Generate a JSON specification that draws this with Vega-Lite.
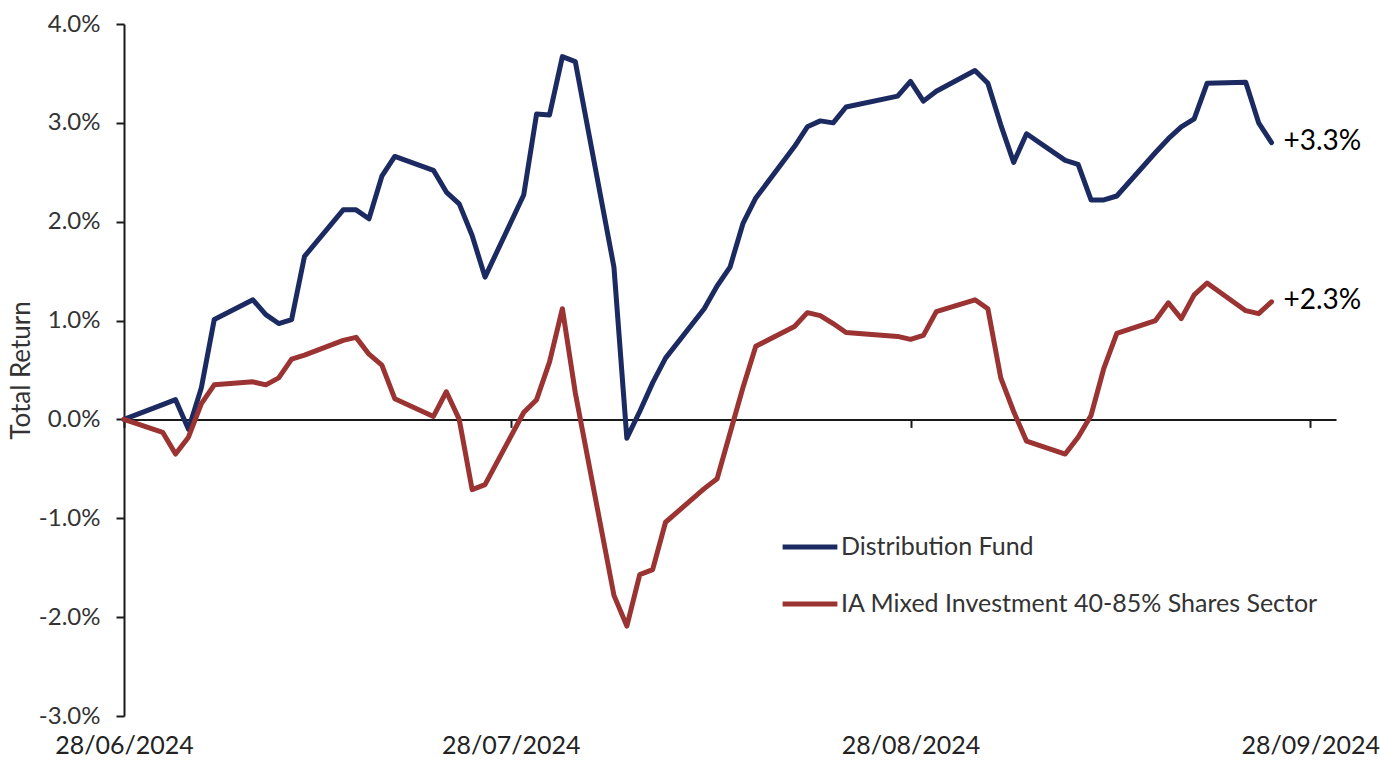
{
  "$schema": "https://vega.github.io/schema/vega-lite/v6.json",
  "width": 1212,
  "height": 692,
  "autosize": {"type": "none"},
  "padding": {"left": 124, "top": 24, "right": 44, "bottom": 44},
  "background": "white",
  "config": {"view": {"stroke": null}},
  "datasets": {
    "series": [
      {"Date": "2024-06-28", "Series": "Distribution Fund", "Return": 0},
      {"Date": "2024-07-01", "Series": "Distribution Fund", "Return": 0.15},
      {"Date": "2024-07-02", "Series": "Distribution Fund", "Return": 0.20},
      {"Date": "2024-07-03", "Series": "Distribution Fund", "Return": -0.10},
      {"Date": "2024-07-04", "Series": "Distribution Fund", "Return": 0.32},
      {"Date": "2024-07-05", "Series": "Distribution Fund", "Return": 1.01},
      {"Date": "2024-07-08", "Series": "Distribution Fund", "Return": 1.21},
      {"Date": "2024-07-09", "Series": "Distribution Fund", "Return": 1.06},
      {"Date": "2024-07-10", "Series": "Distribution Fund", "Return": 0.97},
      {"Date": "2024-07-11", "Series": "Distribution Fund", "Return": 1.01},
      {"Date": "2024-07-12", "Series": "Distribution Fund", "Return": 1.65},
      {"Date": "2024-07-15", "Series": "Distribution Fund", "Return": 2.12},
      {"Date": "2024-07-16", "Series": "Distribution Fund", "Return": 2.12},
      {"Date": "2024-07-17", "Series": "Distribution Fund", "Return": 2.03},
      {"Date": "2024-07-18", "Series": "Distribution Fund", "Return": 2.46},
      {"Date": "2024-07-19", "Series": "Distribution Fund", "Return": 2.66},
      {"Date": "2024-07-22", "Series": "Distribution Fund", "Return": 2.52},
      {"Date": "2024-07-23", "Series": "Distribution Fund", "Return": 2.30},
      {"Date": "2024-07-24", "Series": "Distribution Fund", "Return": 2.18},
      {"Date": "2024-07-25", "Series": "Distribution Fund", "Return": 1.86},
      {"Date": "2024-07-26", "Series": "Distribution Fund", "Return": 1.44},
      {"Date": "2024-07-29", "Series": "Distribution Fund", "Return": 2.27},
      {"Date": "2024-07-30", "Series": "Distribution Fund", "Return": 3.09},
      {"Date": "2024-07-31", "Series": "Distribution Fund", "Return": 3.08},
      {"Date": "2024-08-01", "Series": "Distribution Fund", "Return": 3.67},
      {"Date": "2024-08-02", "Series": "Distribution Fund", "Return": 3.62},
      {"Date": "2024-08-05", "Series": "Distribution Fund", "Return": 1.54},
      {"Date": "2024-08-06", "Series": "Distribution Fund", "Return": -0.19},
      {"Date": "2024-08-07", "Series": "Distribution Fund", "Return": 0.08},
      {"Date": "2024-08-08", "Series": "Distribution Fund", "Return": 0.37},
      {"Date": "2024-08-09", "Series": "Distribution Fund", "Return": 0.62},
      {"Date": "2024-08-12", "Series": "Distribution Fund", "Return": 1.12},
      {"Date": "2024-08-13", "Series": "Distribution Fund", "Return": 1.35},
      {"Date": "2024-08-14", "Series": "Distribution Fund", "Return": 1.54},
      {"Date": "2024-08-15", "Series": "Distribution Fund", "Return": 1.98},
      {"Date": "2024-08-16", "Series": "Distribution Fund", "Return": 2.24},
      {"Date": "2024-08-19", "Series": "Distribution Fund", "Return": 2.76},
      {"Date": "2024-08-20", "Series": "Distribution Fund", "Return": 2.96},
      {"Date": "2024-08-21", "Series": "Distribution Fund", "Return": 3.02},
      {"Date": "2024-08-22", "Series": "Distribution Fund", "Return": 3.00},
      {"Date": "2024-08-23", "Series": "Distribution Fund", "Return": 3.16},
      {"Date": "2024-08-27", "Series": "Distribution Fund", "Return": 3.27},
      {"Date": "2024-08-28", "Series": "Distribution Fund", "Return": 3.42},
      {"Date": "2024-08-29", "Series": "Distribution Fund", "Return": 3.22},
      {"Date": "2024-08-30", "Series": "Distribution Fund", "Return": 3.32},
      {"Date": "2024-09-02", "Series": "Distribution Fund", "Return": 3.53},
      {"Date": "2024-09-03", "Series": "Distribution Fund", "Return": 3.40},
      {"Date": "2024-09-04", "Series": "Distribution Fund", "Return": 2.98},
      {"Date": "2024-09-05", "Series": "Distribution Fund", "Return": 2.60},
      {"Date": "2024-09-06", "Series": "Distribution Fund", "Return": 2.89},
      {"Date": "2024-09-09", "Series": "Distribution Fund", "Return": 2.62},
      {"Date": "2024-09-10", "Series": "Distribution Fund", "Return": 2.58},
      {"Date": "2024-09-11", "Series": "Distribution Fund", "Return": 2.22},
      {"Date": "2024-09-12", "Series": "Distribution Fund", "Return": 2.22},
      {"Date": "2024-09-13", "Series": "Distribution Fund", "Return": 2.26},
      {"Date": "2024-09-16", "Series": "Distribution Fund", "Return": 2.70},
      {"Date": "2024-09-17", "Series": "Distribution Fund", "Return": 2.84},
      {"Date": "2024-09-18", "Series": "Distribution Fund", "Return": 2.96},
      {"Date": "2024-09-19", "Series": "Distribution Fund", "Return": 3.04},
      {"Date": "2024-09-20", "Series": "Distribution Fund", "Return": 3.40},
      {"Date": "2024-09-23", "Series": "Distribution Fund", "Return": 3.41},
      {"Date": "2024-09-24", "Series": "Distribution Fund", "Return": 3.00},
      {"Date": "2024-09-25", "Series": "Distribution Fund", "Return": 2.80},
      {"Date": "2024-06-28", "Series": "IA Mixed Investment 40-85% Shares Sector", "Return": 0},
      {"Date": "2024-07-01", "Series": "IA Mixed Investment 40-85% Shares Sector", "Return": -0.13},
      {"Date": "2024-07-02", "Series": "IA Mixed Investment 40-85% Shares Sector", "Return": -0.35},
      {"Date": "2024-07-03", "Series": "IA Mixed Investment 40-85% Shares Sector", "Return": -0.18},
      {"Date": "2024-07-04", "Series": "IA Mixed Investment 40-85% Shares Sector", "Return": 0.16},
      {"Date": "2024-07-05", "Series": "IA Mixed Investment 40-85% Shares Sector", "Return": 0.35},
      {"Date": "2024-07-08", "Series": "IA Mixed Investment 40-85% Shares Sector", "Return": 0.38},
      {"Date": "2024-07-09", "Series": "IA Mixed Investment 40-85% Shares Sector", "Return": 0.35},
      {"Date": "2024-07-10", "Series": "IA Mixed Investment 40-85% Shares Sector", "Return": 0.42},
      {"Date": "2024-07-11", "Series": "IA Mixed Investment 40-85% Shares Sector", "Return": 0.61},
      {"Date": "2024-07-12", "Series": "IA Mixed Investment 40-85% Shares Sector", "Return": 0.65},
      {"Date": "2024-07-15", "Series": "IA Mixed Investment 40-85% Shares Sector", "Return": 0.80},
      {"Date": "2024-07-16", "Series": "IA Mixed Investment 40-85% Shares Sector", "Return": 0.83},
      {"Date": "2024-07-17", "Series": "IA Mixed Investment 40-85% Shares Sector", "Return": 0.66},
      {"Date": "2024-07-18", "Series": "IA Mixed Investment 40-85% Shares Sector", "Return": 0.55},
      {"Date": "2024-07-19", "Series": "IA Mixed Investment 40-85% Shares Sector", "Return": 0.21},
      {"Date": "2024-07-22", "Series": "IA Mixed Investment 40-85% Shares Sector", "Return": 0.03},
      {"Date": "2024-07-23", "Series": "IA Mixed Investment 40-85% Shares Sector", "Return": 0.28},
      {"Date": "2024-07-24", "Series": "IA Mixed Investment 40-85% Shares Sector", "Return": 0.00},
      {"Date": "2024-07-25", "Series": "IA Mixed Investment 40-85% Shares Sector", "Return": -0.71},
      {"Date": "2024-07-26", "Series": "IA Mixed Investment 40-85% Shares Sector", "Return": -0.66},
      {"Date": "2024-07-29", "Series": "IA Mixed Investment 40-85% Shares Sector", "Return": 0.07},
      {"Date": "2024-07-30", "Series": "IA Mixed Investment 40-85% Shares Sector", "Return": 0.20},
      {"Date": "2024-07-31", "Series": "IA Mixed Investment 40-85% Shares Sector", "Return": 0.58},
      {"Date": "2024-08-01", "Series": "IA Mixed Investment 40-85% Shares Sector", "Return": 1.12},
      {"Date": "2024-08-02", "Series": "IA Mixed Investment 40-85% Shares Sector", "Return": 0.27},
      {"Date": "2024-08-05", "Series": "IA Mixed Investment 40-85% Shares Sector", "Return": -1.78},
      {"Date": "2024-08-06", "Series": "IA Mixed Investment 40-85% Shares Sector", "Return": -2.09},
      {"Date": "2024-08-07", "Series": "IA Mixed Investment 40-85% Shares Sector", "Return": -1.57},
      {"Date": "2024-08-08", "Series": "IA Mixed Investment 40-85% Shares Sector", "Return": -1.52},
      {"Date": "2024-08-09", "Series": "IA Mixed Investment 40-85% Shares Sector", "Return": -1.04},
      {"Date": "2024-08-12", "Series": "IA Mixed Investment 40-85% Shares Sector", "Return": -0.70},
      {"Date": "2024-08-13", "Series": "IA Mixed Investment 40-85% Shares Sector", "Return": -0.60},
      {"Date": "2024-08-14", "Series": "IA Mixed Investment 40-85% Shares Sector", "Return": -0.14},
      {"Date": "2024-08-15", "Series": "IA Mixed Investment 40-85% Shares Sector", "Return": 0.32},
      {"Date": "2024-08-16", "Series": "IA Mixed Investment 40-85% Shares Sector", "Return": 0.74},
      {"Date": "2024-08-19", "Series": "IA Mixed Investment 40-85% Shares Sector", "Return": 0.94},
      {"Date": "2024-08-20", "Series": "IA Mixed Investment 40-85% Shares Sector", "Return": 1.08},
      {"Date": "2024-08-21", "Series": "IA Mixed Investment 40-85% Shares Sector", "Return": 1.05},
      {"Date": "2024-08-22", "Series": "IA Mixed Investment 40-85% Shares Sector", "Return": 0.97},
      {"Date": "2024-08-23", "Series": "IA Mixed Investment 40-85% Shares Sector", "Return": 0.88},
      {"Date": "2024-08-27", "Series": "IA Mixed Investment 40-85% Shares Sector", "Return": 0.84},
      {"Date": "2024-08-28", "Series": "IA Mixed Investment 40-85% Shares Sector", "Return": 0.81},
      {"Date": "2024-08-29", "Series": "IA Mixed Investment 40-85% Shares Sector", "Return": 0.85},
      {"Date": "2024-08-30", "Series": "IA Mixed Investment 40-85% Shares Sector", "Return": 1.09},
      {"Date": "2024-09-02", "Series": "IA Mixed Investment 40-85% Shares Sector", "Return": 1.21},
      {"Date": "2024-09-03", "Series": "IA Mixed Investment 40-85% Shares Sector", "Return": 1.12},
      {"Date": "2024-09-04", "Series": "IA Mixed Investment 40-85% Shares Sector", "Return": 0.42},
      {"Date": "2024-09-05", "Series": "IA Mixed Investment 40-85% Shares Sector", "Return": 0.08},
      {"Date": "2024-09-06", "Series": "IA Mixed Investment 40-85% Shares Sector", "Return": -0.22},
      {"Date": "2024-09-09", "Series": "IA Mixed Investment 40-85% Shares Sector", "Return": -0.35},
      {"Date": "2024-09-10", "Series": "IA Mixed Investment 40-85% Shares Sector", "Return": -0.18},
      {"Date": "2024-09-11", "Series": "IA Mixed Investment 40-85% Shares Sector", "Return": 0.04},
      {"Date": "2024-09-12", "Series": "IA Mixed Investment 40-85% Shares Sector", "Return": 0.52},
      {"Date": "2024-09-13", "Series": "IA Mixed Investment 40-85% Shares Sector", "Return": 0.87},
      {"Date": "2024-09-16", "Series": "IA Mixed Investment 40-85% Shares Sector", "Return": 1.00},
      {"Date": "2024-09-17", "Series": "IA Mixed Investment 40-85% Shares Sector", "Return": 1.18},
      {"Date": "2024-09-18", "Series": "IA Mixed Investment 40-85% Shares Sector", "Return": 1.02},
      {"Date": "2024-09-19", "Series": "IA Mixed Investment 40-85% Shares Sector", "Return": 1.26},
      {"Date": "2024-09-20", "Series": "IA Mixed Investment 40-85% Shares Sector", "Return": 1.38},
      {"Date": "2024-09-23", "Series": "IA Mixed Investment 40-85% Shares Sector", "Return": 1.10},
      {"Date": "2024-09-24", "Series": "IA Mixed Investment 40-85% Shares Sector", "Return": 1.07},
      {"Date": "2024-09-25", "Series": "IA Mixed Investment 40-85% Shares Sector", "Return": 1.19}
    ],
    "endLabels": [
      {"Date": "2024-09-25", "Return": 2.80, "Label": "+3.3%"},
      {"Date": "2024-09-25", "Return": 1.19, "Label": "+2.3%"}
    ]
  },
  "layer": [
    {
      "data": {"name": "series"},
      "mark": {"type": "line", "strokeWidth": 5, "strokeCap": "round", "strokeJoin": "round"},
      "encoding": {
        "x": {
          "field": "Date",
          "type": "temporal",
          "scale": {"type": "utc", "domain": [{"year": 2024, "month": 6, "date": 28, "utc": true}, {"year": 2024, "month": 9, "date": 30, "utc": true}]},
          "axis": {
            "title": null,
            "values": [
              {"year": 2024, "month": 6, "date": 28, "utc": true},
              {"year": 2024, "month": 7, "date": 28, "utc": true},
              {"year": 2024, "month": 8, "date": 28, "utc": true},
              {"year": 2024, "month": 9, "date": 28, "utc": true}
            ],
            "labelExpr": "utcFormat(datum.value, '%d/%m/%Y')",
            "offset": -296.6,
            "grid": false,
            "domainColor": "#1a1a1a",
            "domainWidth": 2,
            "tickColor": "#1a1a1a",
            "tickWidth": 2,
            "tickSize": 8,
            "labelPadding": 326,
            "labelBaseline": "alphabetic",
            "labelFont": "Lato",
            "labelFontSize": 25,
            "labelColor": "#222222",
            "labelFlush": false,
            "labelOverlap": false
          }
        },
        "y": {
          "field": "Return",
          "type": "quantitative",
          "scale": {"domain": [-3, 4], "nice": false, "zero": false},
          "axis": {
            "title": "Total Return",
            "values": [-3, -2, -1, 0, 1, 2, 3, 4],
            "labelExpr": "replace(format(datum.value, '.1f'), '\u2212', '-') + '%'",
            "grid": false,
            "domainColor": "#1a1a1a",
            "domainWidth": 2,
            "tickColor": "#1a1a1a",
            "tickWidth": 2,
            "tickSize": 8,
            "labelPadding": 16,
            "labelFont": "Lato",
            "labelFontSize": 24,
            "labelColor": "#333333",
            "titleFont": "Lato",
            "titleFontSize": 26,
            "titleFontWeight": "normal",
            "titleColor": "#333333",
            "titlePadding": 4
          }
        },
        "color": {
          "field": "Series",
          "type": "nominal",
          "scale": {
            "domain": ["Distribution Fund", "IA Mixed Investment 40-85% Shares Sector"],
            "range": ["#1c2a62", "#9a3331"]
          },
          "legend": {
            "title": null,
            "orient": "none",
            "legendX": 656,
            "legendY": 493,
            "symbolType": "stroke",
            "symbolSize": 3000,
            "symbolStrokeWidth": 5,
            "rowPadding": 14,
            "labelOffset": 1,
            "labelFont": "Lato",
            "labelFontSize": 25,
            "labelColor": "#333333",
            "labelLimit": 700
          }
        }
      }
    },
    {
      "data": {"name": "endLabels"},
      "mark": {"type": "text", "align": "left", "baseline": "middle", "dx": 12, "dy": -1, "font": "Lato", "fontSize": 28, "color": "#000000"},
      "encoding": {
        "x": {"field": "Date", "type": "temporal"},
        "y": {"field": "Return", "type": "quantitative"},
        "text": {"field": "Label"}
      }
    }
  ]
}
